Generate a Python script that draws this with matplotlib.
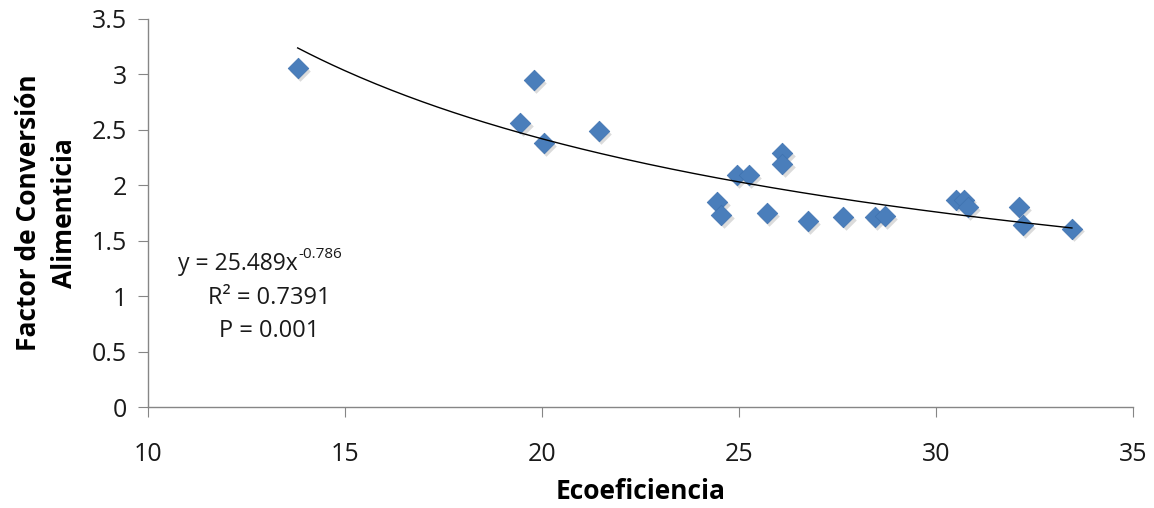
import matplotlib
matplotlib.use("Agg")
import numpy as np
import matplotlib.pyplot as plt

# datos
ecoeficiencia = [13.8, 19.8, 19.45, 20.05, 21.45, 24.95, 25.25, 26.1, 26.1,
                 24.45, 24.55, 25.7, 26.75, 27.65, 28.45, 28.7, 30.5, 30.7,
                 30.8, 32.1, 32.2, 33.45]
fca = [3.06, 2.95, 2.56, 2.38, 2.49, 2.09, 2.09, 2.29, 2.19,
       1.85, 1.73, 1.75, 1.68, 1.71, 1.71, 1.72, 1.87, 1.87,
       1.80, 1.80, 1.64, 1.61]
coef_a = 25.489
coef_b = -0.786
x_ticks = [10, 15, 20, 25, 30, 35]
y_ticks = [0, 0.5, 1, 1.5, 2, 2.5, 3, 3.5]

font = "Open Sans"
plt.rcParams['font.family'] = [font, 'DejaVu Sans']

fig = plt.figure(figsize=(11.54, 5.08), dpi=100)
ax = fig.add_axes([0.1282, 0.1988, 0.8536, 0.7638])

# sombra ligera de los marcadores
ax.scatter(np.array(ecoeficiencia) + 0.06, np.array(fca) - 0.025, marker='D', s=110,
           color='#9a9a9a', alpha=0.35, linewidths=0, zorder=2)
ax.scatter(ecoeficiencia, fca, marker='D', s=110, color='#4a7ebb',
           edgecolors='#3f72b0', linewidths=0.5, zorder=3)

# linea de tendencia potencial
xs = np.linspace(min(ecoeficiencia), max(ecoeficiencia), 200)
ax.plot(xs, coef_a * xs ** coef_b, color='black', lw=1.0, zorder=4)

ax.set_xlim(10, 35)
ax.set_ylim(0, 3.5)
ax.set_xticks(x_ticks)
ax.set_yticks(y_ticks)
ax.set_yticklabels(['0', '0.5', '1', '1.5', '2', '2.5', '3', '3.5'])

for side in ['top', 'right']:
    ax.spines[side].set_visible(False)
for side in ['left', 'bottom']:
    ax.spines[side].set_color('#868686')
    ax.spines[side].set_linewidth(1.0)
ax.tick_params(axis='both', direction='out', length=7, color='#868686',
               labelsize=18, labelcolor='#1a1a1a')
ax.tick_params(axis='x', pad=18)
ax.tick_params(axis='y', pad=8)

ax.set_xlabel("Ecoeficiencia", fontsize=19, fontweight='bold', labelpad=8)
ax.set_ylabel("Factor de Conversión\nAlimenticia", fontsize=19, fontweight='bold',
              labelpad=10, linespacing=1.45)

# ecuacion de la tendencia (exponente como texto aparte)
ax.text(0.1525, 0.368, "y = 25.489x", transform=ax.transAxes,
        ha='right', va='center', fontsize=16.5, color='#1a1a1a')
ax.text(0.1525, 0.392, "-0.786", transform=ax.transAxes,
        ha='left', va='center', fontsize=11, color='#1a1a1a')
ax.text(0.123, 0.28, "R² = 0.7391", transform=ax.transAxes,
        ha='center', va='center', fontsize=17, color='#1a1a1a')
ax.text(0.123, 0.195, "P = 0.001", transform=ax.transAxes,
        ha='center', va='center', fontsize=17, color='#1a1a1a')

fig.savefig("out.png", dpi=100)
